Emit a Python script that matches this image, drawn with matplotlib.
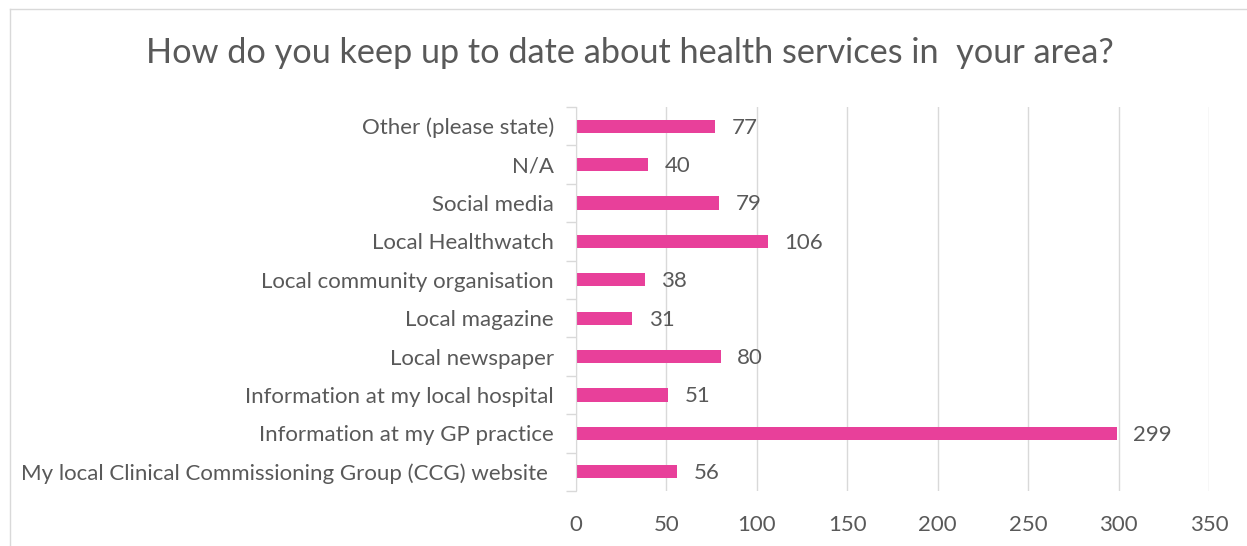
import matplotlib
matplotlib.use("Agg")
import matplotlib.pyplot as plt
from matplotlib.lines import Line2D

categories = [
    "My local Clinical Commissioning Group (CCG) website ",
    "Information at my GP practice",
    "Information at my local hospital",
    "Local newspaper",
    "Local magazine",
    "Local community organisation",
    "Local Healthwatch",
    "Social media",
    "N/A",
    "Other (please state)",
]
values = [56, 299, 51, 80, 31, 38, 106, 79, 40, 77]
xticks = [0, 50, 100, 150, 200, 250, 300, 350]
title = "How do you keep up to date about health services in  your area?"

plt.rcParams['font.family'] = ['Lato', 'DejaVu Sans']
text_color = "#595959"
bar_color = "#E8409A"
grid_color = "#D9D9D9"

W, H = 1247, 546
fig = plt.figure(figsize=(W / 100, H / 100), dpi=100)
ax = fig.add_axes([576 / W, 1 - 491 / H, (1209 - 576) / W, (491 - 107) / H])

y = list(range(len(categories)))
ax.barh(y, values, height=0.34, color=bar_color, zorder=3)
for yi, v in zip(y, values):
    ax.annotate(str(v), xy=(v, yi), xytext=(12, -1), textcoords="offset points",
                va="center", ha="left", fontsize=16, color=text_color)

ax.set_xlim(0, 350)
ax.set_ylim(-0.5, len(categories) - 0.5)
ax.set_xticks(xticks)
ax.set_xticklabels([str(t) for t in xticks])
ax.set_yticks(y)
ax.set_yticklabels(categories)
ax.set_yticks([i - 0.5 for i in range(len(categories) + 1)], minor=True)
ax.tick_params(axis="y", which="major", length=0, pad=16, labelsize=16, labelcolor=text_color)
ax.tick_params(axis="y", which="minor", length=7, color=grid_color, width=1)
ax.tick_params(axis="x", length=0, pad=17, labelsize=16, labelcolor=text_color)
ax.grid(axis="x", color=grid_color, linewidth=1, zorder=0)
for s in ["top", "right", "bottom"]:
    ax.spines[s].set_visible(False)
ax.spines["left"].set_color(grid_color)
ax.spines["left"].set_zorder(4)

fig.text(630 / W, 1 - 53 / H, title, ha="center", va="center", fontsize=24.7, color=text_color)

# chart frame (top and left edges visible)
fig.add_artist(Line2D([10 / W, 1.0], [1 - 9 / H, 1 - 9 / H], transform=fig.transFigure, color=grid_color, linewidth=1))
fig.add_artist(Line2D([10 / W, 10 / W], [0, 1 - 9 / H], transform=fig.transFigure, color=grid_color, linewidth=1))

fig.savefig("out.png", dpi=100)
